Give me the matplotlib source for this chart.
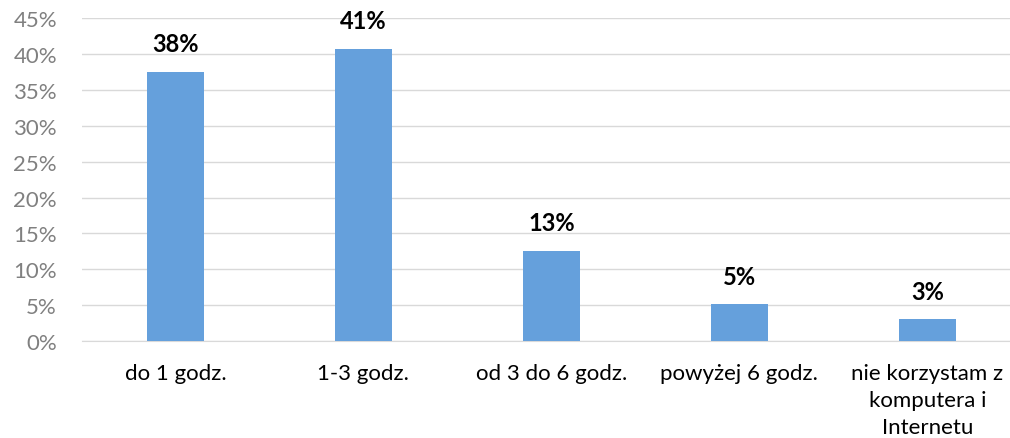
import numpy as np
import matplotlib
matplotlib.use('Agg')
import matplotlib.pyplot as plt
from matplotlib.ticker import MultipleLocator, FuncFormatter

categories = ['do 1 godz.', '1-3 godz.', 'od 3 do 6 godz.', 'powyżej 6 godz.',
              'nie korzystam z\nkomputera i\nInternetu']
values = [37.5, 40.7, 12.6, 5.1, 3.0]
labels = ['38%', '41%', '13%', '5%', '3%']

plt.rcParams['font.family'] = ['Lato', 'DejaVu Sans']

fig = plt.figure(figsize=(10.10, 4.39), dpi=100)
ax = fig.add_axes([0.0812, 0.221, 0.9188, 0.7346])

x = np.arange(len(categories))
ax.bar(x, values, width=0.303, color='#65a0dc', zorder=3)

for xi, v, lab in zip(x, values, labels):
    ax.annotate(lab, (xi, v), xytext=(0, 15), textcoords='offset points',
                ha='center', va='baseline', fontsize=17, fontweight='bold',
                color='black')

ax.set_ylim(0, 45)
ax.set_xlim(-0.497, 4.44)
ax.yaxis.set_major_locator(MultipleLocator(5))
ax.yaxis.set_major_formatter(FuncFormatter(lambda v, p: f'{v:.0f}%'))
ax.grid(axis='y', color='#d9d9d9', linewidth=1.0, zorder=0)

ax.set_xticks(x)
ax.set_xticklabels(categories, fontsize=16, color='black', linespacing=1.42)
ax.tick_params(axis='y', length=0, pad=18, labelsize=16, labelcolor='#808080')
ax.tick_params(axis='x', length=0, pad=16)

for s in ['top', 'right', 'left']:
    ax.spines[s].set_visible(False)
ax.spines['bottom'].set_color('#d9d9d9')

fig.savefig('out.png', dpi=100)
